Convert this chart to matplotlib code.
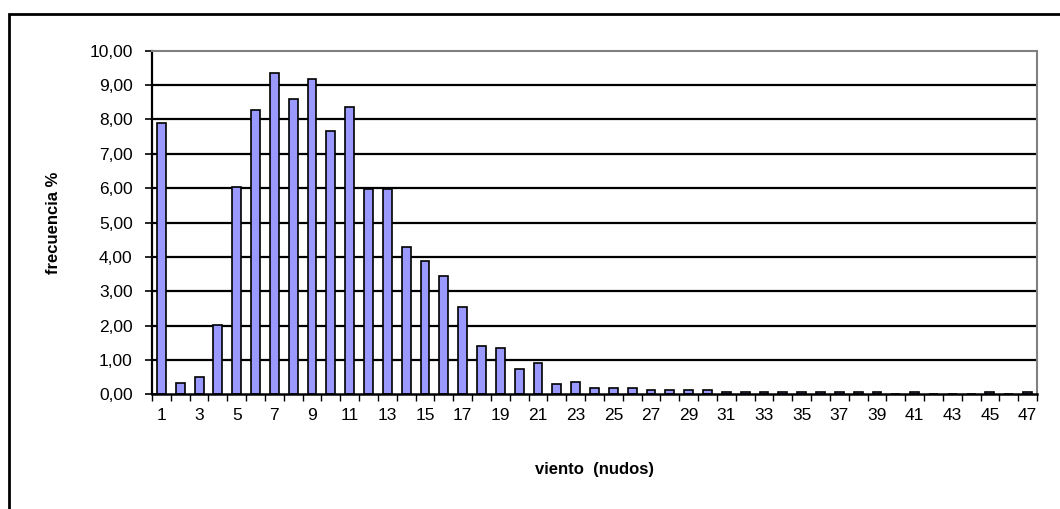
import matplotlib.pyplot as plt
import matplotlib.patches as mpatches
import numpy as np

plt.rcParams['font.family'] = ['Liberation Sans', 'DejaVu Sans']

# wind speed classes (knots) and frequency (%)
viento = list(range(1, 48))
frecuencia = [7.89, 0.34, 0.51, 2.02, 6.04, 8.27, 9.34, 8.60, 9.17, 7.67,
              8.37, 5.98, 5.98, 4.30, 3.87, 3.45, 2.53, 1.40, 1.34, 0.73,
              0.90, 0.30, 0.35, 0.18, 0.18, 0.18, 0.12, 0.12, 0.12, 0.12,
              0.06, 0.06, 0.06, 0.06, 0.06, 0.06, 0.06, 0.06, 0.06, 0.00,
              0.06, 0.00, 0.00, 0.00, 0.06, 0.00, 0.06]
y_ticks = [0, 1, 2, 3, 4, 5, 6, 7, 8, 9, 10]

fig = plt.figure(figsize=(10.6, 5.09), dpi=100)
ax = fig.add_axes([0.1434, 0.2253, 0.9783 - 0.1434, 0.9004 - 0.2253])

x = np.arange(len(viento))
ax.bar(x, frecuencia, width=0.47, color='#9999ff', edgecolor='black',
       linewidth=1.2, zorder=3)

ax.set_xlim(-0.5, len(viento) - 0.5)
ax.set_ylim(0, 10)

# gridlines
for v in y_ticks[1:-1]:
    ax.axhline(v, color='black', linewidth=1.6, zorder=1)

ax.set_yticks(y_ticks)
ax.set_yticklabels([f"{v:.2f}".replace('.', ',') for v in y_ticks], fontsize=12.5)

# category labels every 2, ticks between categories
ax.set_xticks(x[::2])
ax.set_xticklabels([str(v) for v in viento[::2]], fontsize=12.5)
ax.tick_params(axis='x', which='major', length=0, pad=10)
ax.set_xticks(np.arange(-0.5, len(viento)), minor=True)
ax.tick_params(axis='x', which='minor', length=5, width=1, color='black')
ax.tick_params(axis='y', length=10, width=1.2, pad=9, direction='inout')

for side in ['top', 'right']:
    ax.spines[side].set_color('#808080')
    ax.spines[side].set_linewidth(1.5)
ax.spines['left'].set_linewidth(1.6)
ax.spines['bottom'].set_linewidth(1.8)
ax.spines['bottom'].set_zorder(4)

ax.set_xlabel("viento  (nudos)", fontsize=12, fontweight='bold', labelpad=28)
ax.set_ylabel("frecuencia %", fontsize=12, fontweight='bold', labelpad=20)

# outer chart border
border = mpatches.Rectangle((9 / 1060, -0.1), 1.2, 0.9725 + 0.1,
                            transform=fig.transFigure, fill=False,
                            edgecolor='black', linewidth=2, clip_on=False)
fig.patches.append(border)

fig.savefig("out.png", dpi=100)
